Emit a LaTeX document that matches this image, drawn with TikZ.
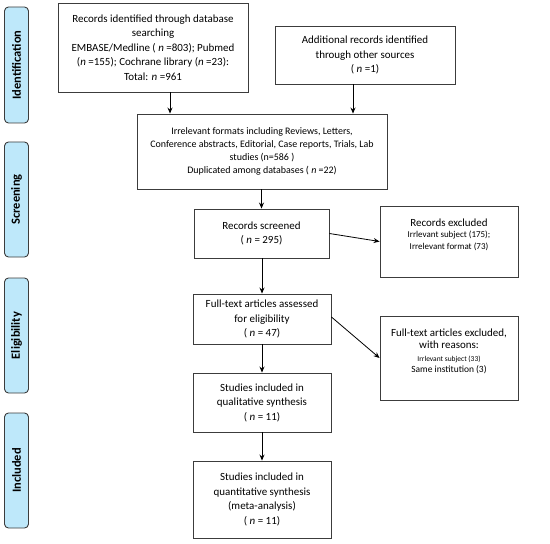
\documentclass[tikz,border=0pt]{standalone}
\usepackage{fontspec}
\setmainfont{Carlito}
\usetikzlibrary{arrows.meta,calc}
\definecolor{sideblue}{RGB}{190,232,250}
\definecolor{boxline}{RGB}{60,60,60}
\begin{document}
\begin{tikzpicture}[x=1bp,y=-1bp,
  box/.style={draw=boxline,line width=0.9bp,inner sep=0,align=center,
    font=\fontsize{11}{14.6}\selectfont},
  side/.style={draw=boxline,line width=0.9bp,fill=sideblue,rounded corners=4bp,
    inner sep=0,minimum height=24bp,rotate=90,font=\bfseries\fontsize{12.5}{14}\selectfont},
  arr/.style={draw=black,line width=0.8bp,-{Stealth[length=6bp,width=5bp]}}]
\useasboundingbox (0,0) rectangle (550,544);
% side labels
\node[side,minimum width=116bp] (s1) at (16.5,65) {Identification};
\node[side,minimum width=115bp] (s2) at (16.5,199.5) {Screening};
\node[side,minimum width=115bp] (s3) at (16.5,335.5) {Eligibility};
\node[side,minimum width=115bp] (s4) at (16.5,470.5) {Included};
% boxes
\node[box,minimum width=190bp,minimum height=89bp] (b1) at (153,47.5)
  {Records identified through database\\searching\\EMBASE/Medline ( \textit{n} =803); Pubmed\\(\textit{n} =155); Cochrane library (\textit{n} =23):\\Total: \textit{n} =961};
\node[box,minimum width=180bp,minimum height=58bp] (b2) at (365,55)
  {Additional records identified\\through other sources\\( \textit{n} =1)};
\node[box,minimum width=250bp,minimum height=75bp,font=\fontsize{10}{13.3}\selectfont] (b3) at (262,151.5)
  {Irrelevant formats including Reviews, Letters,\\Conference abstracts, Editorial, Case reports, Trials, Lab\\studies (n=586 )\\Duplicated among databases ( \textit{n} =22)};
\node[box,minimum width=135bp,minimum height=49bp] (b4) at (261.5,233.5)
  {Records screened\\( \textit{n} = 295)};
\node[box,minimum width=138bp,minimum height=71bp] (b5) at (449,241.5) {};
\node[anchor=north,align=center,inner sep=0,font=\fontsize{11}{12}\selectfont] (t5) at ($(b5.north)+(0,13)$)
  {Records excluded\\[-0.5bp]{\fontsize{9}{12}\selectfont Irrlevant subject (175);}\\[-0.5bp]{\fontsize{9}{12}\selectfont Irrelevant format (73)}};
\node[box,minimum width=138bp,minimum height=50bp] (b6) at (262,319)
  {Full-text articles assessed\\for eligibility\\( \textit{n} = 47)};
\node[box,minimum width=138bp,minimum height=84bp] (b7) at (449,358) {};
\node[anchor=north,align=center,inner sep=0,font=\fontsize{11}{12.5}\selectfont] (t7) at ($(b7.north)+(0,13)$)
  {Full-text articles excluded,\\with reasons:\\{\fontsize{7.5}{12}\selectfont Irrlevant subject (33)}\\[-1bp]{\fontsize{9.5}{12}\selectfont Same institution (3)}};
\node[box,minimum width=138bp,minimum height=59bp] (b8) at (262,402.5)
  {Studies included in\\qualitative synthesis\\( \textit{n} = 11)};
\node[box,minimum width=138bp,minimum height=77bp] (b9) at (262,499.5)
  {Studies included in\\quantitative synthesis\\(meta-analysis)\\( \textit{n} = 11)};
% arrows
\coordinate (c1) at (170,0);
\coordinate (c2) at (353,0);
\draw[arr] (b1.south -| c1) -- (b3.north -| c1);
\draw[arr] (b2.south -| c2) -- (b3.north -| c2);
\draw[arr] (b3.south -| b4) -- (b4.north);
\draw[arr] (b4.east) -- (b5.west);
\draw[arr] (b4.south -| b6) -- (b6.north);
\draw[arr] ($(b6.east)+(0,-2)$) -- (b7.west);
\draw[arr] (b6.south) -- (b8.north);
\draw[arr] (b8.south) -- (b9.north);
\end{tikzpicture}
\end{document}
